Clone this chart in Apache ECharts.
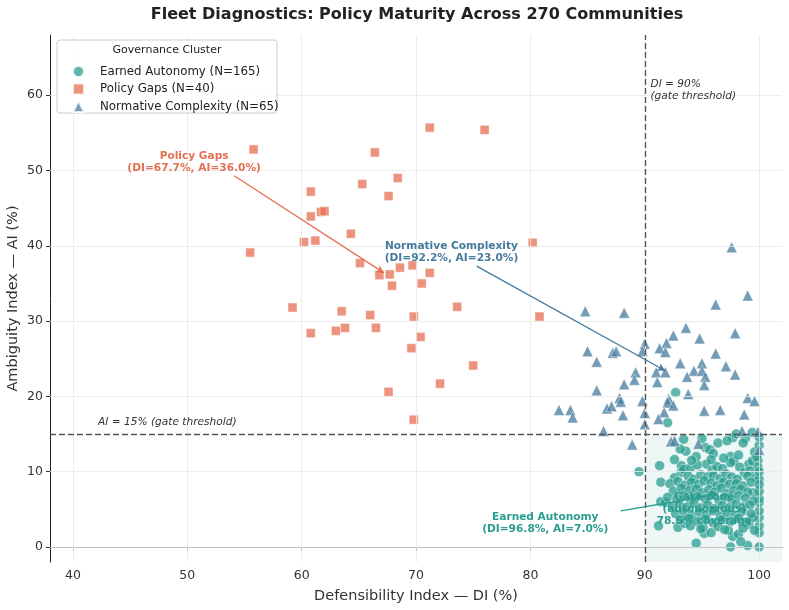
<!DOCTYPE html>
<html>
<head>
<meta charset="utf-8">
<script src="https://cdn.jsdelivr.net/npm/echarts@6/dist/echarts.min.js"></script>
<style>
  html, body { margin: 0; padding: 0; background: #fff; }
  #chart { width: 789px; height: 610px; }
</style>
</head>
<body>
<div id="chart"></div>
<script>
const TICKS_X = [40, 50, 60, 70, 80, 90, 100];
const TICKS_Y = [0, 10, 20, 30, 40, 50, 60];
const LEGEND = ["Earned Autonomy (N=165)", "Policy Gaps (N=40)", "Normative Complexity (N=65)"];

// [DI, AI] pairs
const earned = [
  [92.7, 20.5], [92.0, 16.5], [89.5, 10.0], [91.4, 8.6], [91.3, 10.8], [91.4, 6.0], [91.8, 5.9],
  [91.2, 2.8], [92.9, 2.6], [93.5, 3.1], [94.0, 2.8], [94.5, 0.5], [95.2, 1.8], [95.8, 1.9],
  [95.1, 2.6], [97.5, 0.0], [97.7, 1.4], [98.2, 1.7], [97.3, 2.2], [99.0, 0.2], [100.0, 0.0],
  [100.0, 1.9], [100.0, 2.8], [100.0, 3.9], [100.0, 4.8], [100.0, 5.9], [100.0, 6.4], [99.5, 7.2],
  [100.0, 7.4], [99.1, 3.0], [99.5, 3.9], [93.4, 14.3], [95.0, 14.4], [97.7, 14.5], [98.8, 14.4],
  [99.4, 15.2], [93.6, 12.7], [95.3, 13.2], [95.7, 12.9], [98.6, 13.8], [93.2, 10.8], [93.2, 9.9],
  [93.4, 10.3], [95.4, 11.0], [97.5, 12.0], [97.8, 11.4], [97.5, 11.2], [99.1, 11.0], [99.4, 11.4],
  [99.9, 11.5], [99.9, 10.6],
  [94.0, 10.5], [94.6, 10.9], [95.9, 10.2], [96.3, 10.7], [96.8, 10.4], [98.3, 10.6], [98.7, 9.9], [99.2, 10.1],
  [92.6, 9.2], [93.8, 9.4], [94.3, 9.0], [94.9, 9.6], [95.5, 9.3], [96.0, 9.5], [96.6, 9.1],
  [97.1, 9.7], [97.6, 9.3], [98.1, 9.0], [99.0, 9.4], [99.7, 9.2], [100.0, 9.0],
  [92.2, 8.4], [92.9, 8.7], [93.5, 8.2], [94.1, 8.6], [94.7, 8.3], [95.2, 8.8], [95.8, 8.5],
  [96.3, 8.1], [96.9, 8.6], [97.4, 8.3], [98.0, 8.4], [98.6, 8.1], [99.3, 8.6], [100.0, 8.3],
  [92.5, 7.4], [93.2, 7.8], [93.9, 7.5], [94.5, 7.7], [95.0, 7.2], [95.6, 7.6], [96.1, 7.3],
  [96.7, 7.8], [97.2, 7.1], [97.8, 7.5], [98.4, 7.7], [99.0, 7.3],
  [92.0, 6.6], [92.8, 6.4], [93.4, 6.8], [94.0, 6.3], [94.6, 6.7], [95.3, 6.4], [95.9, 6.9],
  [96.5, 6.2], [97.0, 6.6], [97.6, 6.3], [98.2, 6.8], [98.8, 6.5], [99.5, 6.1],
  [92.4, 5.4], [93.0, 5.7], [93.7, 5.3], [94.3, 5.8], [94.9, 5.2], [95.5, 5.6], [96.1, 5.1],
  [96.8, 5.5], [97.4, 5.2], [98.0, 5.7], [98.6, 5.3], [99.2, 5.6],
  [92.7, 4.4], [93.4, 4.7], [94.1, 4.2], [94.8, 4.6], [95.4, 4.3], [96.0, 4.8], [96.6, 4.1],
  [97.2, 4.5], [97.9, 4.2], [98.5, 4.7], [99.3, 4.4],
  [93.1, 3.6], [93.9, 3.8], [94.6, 3.4], [95.3, 3.7], [96.0, 3.2], [96.7, 3.6], [97.5, 3.4],
  [98.2, 3.8], [98.9, 3.3],
  [94.9, 2.4], [96.4, 2.7], [97.0, 2.3], [98.6, 2.5], [99.6, 2.2],
  [94.5, 12.0], [96.0, 12.4], [96.9, 11.8], [98.2, 12.2], [99.6, 12.6], [94.1, 11.5], [95.8, 11.6],
  [96.4, 13.8], [97.2, 14.1], [100.0, 13.5], [100.0, 14.6], [98.0, 15.0],
  [98.4, 0.7], [100.0, 10.0], [99.8, 12.0], [92.6, 11.6], [93.1, 13.0]
];

const gaps = [
  [55.8, 52.8], [66.4, 52.4], [71.2, 55.7], [76.0, 55.4], [68.4, 49.0], [65.3, 48.2], [67.6, 46.6],
  [60.8, 47.2], [61.7, 44.5], [62.0, 44.6], [60.8, 43.9], [64.3, 41.6], [60.2, 40.5], [61.2, 40.7],
  [55.5, 39.1], [80.2, 40.4], [65.1, 37.7], [68.6, 37.1], [69.7, 37.4], [66.8, 36.1], [67.7, 36.2],
  [67.9, 34.7], [70.5, 35.0], [71.2, 36.4], [59.2, 31.8], [63.5, 31.3], [66.0, 30.8], [69.8, 30.6],
  [73.6, 31.9], [80.8, 30.6], [60.8, 28.4], [63.0, 28.7], [63.8, 29.1], [66.5, 29.1], [70.4, 27.9],
  [69.6, 26.4], [75.0, 24.1], [72.1, 21.7], [67.6, 20.6], [69.8, 16.9]
];

const normative = [
  [97.6, 39.8], [99.0, 33.4], [96.2, 32.2], [84.8, 31.3], [88.2, 31.1], [93.6, 29.1], [97.9, 28.4],
  [92.5, 28.1], [94.8, 27.7], [90.0, 27.0], [91.9, 27.1], [91.3, 26.4], [85.0, 26.0], [87.2, 25.8],
  [87.5, 26.0], [89.8, 26.0], [91.8, 25.9], [96.2, 25.7], [85.8, 24.6], [93.1, 24.4], [95.0, 24.4],
  [97.1, 24.0], [89.2, 23.2], [91.0, 23.2], [91.8, 23.2], [94.3, 23.4], [95.0, 23.4], [93.7, 22.6],
  [95.3, 22.6], [97.9, 22.9], [89.1, 22.2], [91.1, 21.9], [88.2, 21.6], [95.2, 21.5], [85.8, 20.8],
  [93.8, 20.3], [87.8, 19.8], [87.9, 19.3], [89.8, 19.4], [92.1, 19.7], [92.0, 19.2], [92.5, 18.8],
  [99.0, 19.8], [99.6, 19.4], [82.5, 18.2], [83.5, 18.2], [83.7, 17.2], [86.7, 18.4], [87.1, 18.7],
  [88.1, 17.5], [90.0, 17.8], [91.7, 17.9], [91.2, 17.0], [95.2, 18.1], [96.6, 18.2], [98.7, 17.6],
  [90.0, 16.3], [86.4, 15.4], [98.5, 15.4], [99.9, 15.3], [88.9, 13.6], [92.3, 14.0], [92.6, 14.1],
  [94.7, 13.7], [100.0, 12.9]
];

const TEAL = "#2a9d8f", SALMON = "#e76f51", STEEL = "#457b9d";
const FONT = "DejaVu Sans";

function markerStyle(color) {
  return { color: color, opacity: 0.75, borderColor: "#fff", borderWidth: 0.6 };
}

function textPoint(coord, text, color, opts) {
  return {
    coord: coord,
    symbol: "circle",
    symbolSize: 0,
    label: Object.assign({
      show: true,
      position: "inside",
      formatter: text,
      color: color,
      fontFamily: FONT,
      fontSize: 10.6,
      fontWeight: "bold",
      lineHeight: 12,
      align: "center",
      verticalAlign: "middle",
    }, opts || {}),
  };
}

function arrow(from, to, color) {
  return [
    { coord: from, symbol: "none", lineStyle: { color: color, width: 1.3, type: "solid" } },
    { coord: to, symbol: "arrow", symbolSize: [6, 8] },
  ];
}

function dashed(from, to) {
  return [
    { coord: from, symbol: "none", lineStyle: { color: "#555", width: 1.4, type: [6, 3] } },
    { coord: to, symbol: "none" },
  ];
}

const chart = echarts.init(document.getElementById("chart"));

const option = {
  animation: false,
  backgroundColor: "#fff",
  textStyle: { fontFamily: FONT },
  grid: { left: 50, right: 7, top: 35, bottom: 48, outerBoundsMode: "none", containLabel: false },
  graphic: [
    {
      type: "text", x: 417, y: 15, z: 10,
      style: { text: "Fleet Diagnostics: Policy Maturity Across 270 Communities", font: "bold 16px DejaVu Sans",
        fill: "#222", textAlign: "center", textVerticalAlign: "middle" },
    },
    {
      type: "rect", z: 10,
      shape: { x: 57, y: 40, width: 220, height: 73, r: 3 },
      style: { fill: "rgba(255,255,255,0.85)", stroke: "#cccccc", lineWidth: 1 },
    },
    {
      type: "text", x: 167, y: 50, z: 11,
      style: { text: "Governance Cluster", font: "11px DejaVu Sans", fill: "#222",
        textAlign: "center", textVerticalAlign: "middle" },
    },
  ],
  legend: {
    z: 12,
    orient: "vertical",
    left: 67,
    top: 60,
    itemGap: 4.5,
    itemWidth: 11,
    itemHeight: 11,
    textStyle: { fontSize: 11.8, color: "#222", fontFamily: FONT, padding: [0, 0, 0, 11] },
    data: LEGEND,
  },
  xAxis: {
    type: "value",
    min: 38,
    max: 102,
    name: "Defensibility Index — DI (%)",
    nameLocation: "middle",
    nameGap: 27,
    nameTextStyle: { fontSize: 14.5, color: "#333", fontFamily: FONT },
    axisLine: { lineStyle: { color: "#222", width: 1 } },
    axisTick: { show: true, length: 4, customValues: TICKS_X, lineStyle: { color: "#333" } },
    axisLabel: { customValues: TICKS_X, fontSize: 12.5, color: "#333", margin: 7 },
    splitLine: { show: false },
  },
  yAxis: {
    type: "value",
    min: -2,
    max: 68,
    name: "Ambiguity Index — AI (%)",
    nameLocation: "middle",
    nameGap: 29,
    nameMoveOverlap: false,
    nameTextStyle: { fontSize: 14.5, color: "#333", fontFamily: FONT },
    axisLine: { show: true, lineStyle: { color: "#222", width: 1 } },
    axisTick: { show: true, length: 4, customValues: TICKS_Y, lineStyle: { color: "#333" } },
    axisLabel: { customValues: TICKS_Y, fontSize: 12.5, color: "#333", margin: 7 },
    splitLine: { show: false },
  },
  series: [
    {
      name: "grid",
      type: "scatter",
      data: [],
      z: 1,
      silent: true,
      markLine: {
        silent: true,
        symbol: "none",
        label: { show: false },
        lineStyle: { color: "#e8e8e8", width: 0.8, type: "solid" },
        data: TICKS_X.map((v) => ({ xAxis: v })).concat(TICKS_Y.map((v) => ({ yAxis: v }))),
      },
      markArea: {
        silent: true,
        itemStyle: { color: "rgba(42,157,143,0.08)" },
        data: [[{ coord: [90, -2] }, { coord: [102, 15] }]],
      },
    },
    {
      name: "under",
      type: "scatter",
      data: [],
      z: 2,
      silent: true,
      markLine: {
        silent: true,
        label: { show: false },
        data: [
          dashed([90, -2], [90, 68]),
          dashed([38, 15], [102, 15]),
          arrow([87.9, 4.8], [96.4, 7.0], TEAL),
        ],
      },
      markPoint: {
        silent: true,
        data: [
          textPoint([95.2, 5.0], "Gate zone\n(autonomous)\n78.5% coverage", TEAL),
        ],
      },
    },
    {
      name: LEGEND[0],
      type: "scatter",
      z: 3,
      symbol: "circle",
      symbolSize: 10,
      itemStyle: markerStyle(TEAL),
      emphasis: { disabled: true },
      data: earned,
    },
    {
      name: LEGEND[1],
      type: "scatter",
      z: 3,
      symbol: "rect",
      symbolSize: 9,
      itemStyle: markerStyle(SALMON),
      emphasis: { disabled: true },
      data: gaps,
    },
    {
      name: LEGEND[2],
      type: "scatter",
      z: 3,
      symbol: "triangle",
      symbolSize: 11,
      itemStyle: markerStyle(STEEL),
      emphasis: { disabled: true },
      data: normative,
    },
    {
      name: "annotations",
      type: "scatter",
      data: [],
      z: 5,
      silent: true,
      markLine: {
        silent: true,
        label: { show: false },
        data: [
          arrow([54.1, 49.3], [67.2, 36.4], SALMON),
          arrow([75.3, 37.3], [91.8, 23.4], STEEL),
        ],
      },
      markPoint: {
        silent: true,
        data: [
          textPoint([50.6, 51.1], "Policy Gaps\n(DI=67.7%, AI=36.0%)", SALMON),
          textPoint([73.1, 39.2], "Normative Complexity\n(DI=92.2%, AI=23.0%)", STEEL),
          textPoint([81.3, 3.2], "Earned Autonomy\n(DI=96.8%, AI=7.0%)", TEAL),
          textPoint([90.5, 60.7], "DI = 90%\n(gate threshold)", "#333",
            { align: "left", fontWeight: "normal", fontStyle: "italic", fontSize: 10.6, lineHeight: 12 }),
          textPoint([42.2, 16.6], "AI = 15% (gate threshold)", "#333",
            { align: "left", fontWeight: "normal", fontStyle: "italic", fontSize: 10.6 }),
        ],
      },
    },
  ],
};

chart.setOption(option);
</script>
</body>
</html>
